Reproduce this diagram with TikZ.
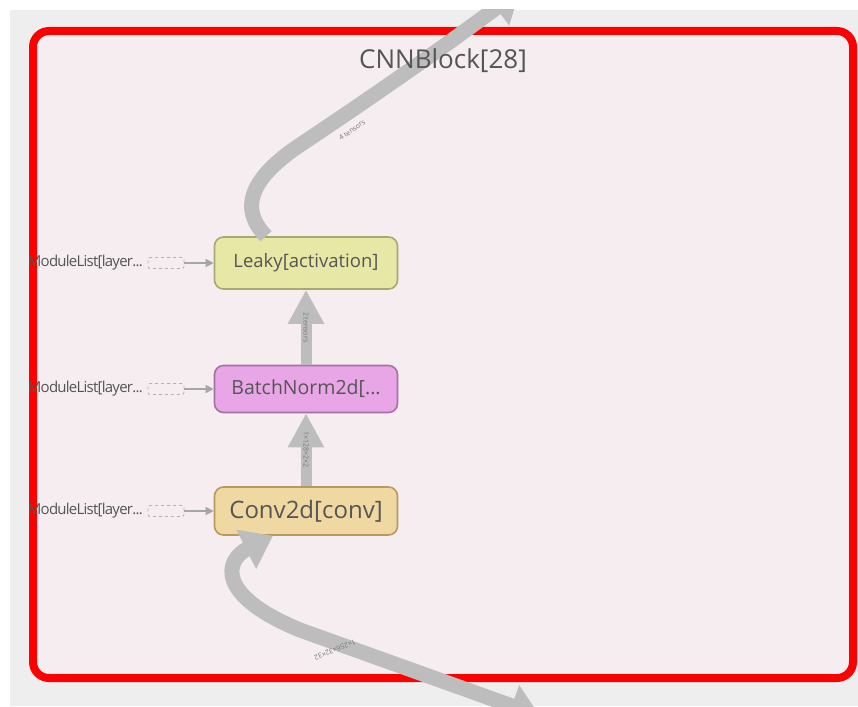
\documentclass[tikz,border=0pt]{standalone}
\usepackage{fontspec}
\setmainfont{Open Sans}
\usetikzlibrary{arrows.meta}
\definecolor{bggray}{HTML}{EEEEEE}
\definecolor{clusterfill}{HTML}{F5EDF0}
\definecolor{edgegray}{HTML}{BDBDBD}
\definecolor{txt}{HTML}{555555}
\definecolor{leakyfill}{HTML}{E8E8A6}
\definecolor{leakydraw}{HTML}{A8A870}
\definecolor{bnfill}{HTML}{E8A6E6}
\definecolor{bndraw}{HTML}{A870A8}
\definecolor{convfill}{HTML}{F0D8A2}
\definecolor{convdraw}{HTML}{B89A60}
\tikzset{
  opnode/.style={rounded corners=9pt, line width=1.6pt, minimum width=183pt, minimum height=52pt, text=txt, inner sep=0pt},
  extlabel/.style={text=txt, font=\fontsize{15}{15}\selectfont\addfontfeatures{LetterSpace=-5}, anchor=east, inner sep=0pt},
  dashbox/.style={draw=gray!60, dashed, line width=0.8pt, rounded corners=2pt, minimum width=36pt, minimum height=11pt, inner sep=0pt},
  smallarrow/.style={draw=gray!70, line width=1.3pt, -{Triangle[length=8pt,width=8pt]}},
  bigedge/.style={draw=edgegray, line width=11pt, -{Triangle[length=34pt,width=34pt]}},
  curveedge/.style={draw=edgegray, line width=15pt},
  elabel/.style={text=txt!80, font=\fontsize{7}{7}\selectfont, inner sep=0pt}
}
\begin{document}
\begin{tikzpicture}[x=1pt,y=-1pt]
\useasboundingbox (0,0) rectangle (858,706);
\fill[white] (0,0) rectangle (858,706);
\fill[bggray] (10,10) rectangle (858,706);
\begin{scope}
\clip (10,10) rectangle (858,706);
\filldraw[fill=clusterfill, draw=red, line width=8pt, rounded corners=16pt] (33,31) rectangle (853,678);
\node[opnode, fill=leakyfill, draw=leakydraw, font=\fontsize{18.5}{18.5}\selectfont] (leaky) at (306,263) {Leaky[activation]};
\node[opnode, fill=bnfill, draw=bndraw, font=\fontsize{19.5}{19.5}\selectfont, minimum height=47pt] (bn) at (306,389) {BatchNorm2d[...};
\node[opnode, fill=convfill, draw=convdraw, font=\fontsize{24}{24}\selectfont, minimum height=48pt] (conv) at (306,511) {Conv2d[conv]};
% top curve
\coordinate (topout) at (520,-10);
\draw[curveedge, -{Triangle[length=30pt,width=42pt]}] ([xshift=-40pt]leaky.north) .. controls (245,215) and (240,185) .. (300,145) .. controls (360,105) and (440,50) .. (topout);
\node[elabel, rotate=36] (l0) at (352,130) {4 tensors};
\node[text=txt, font=\fontsize{26}{26}\selectfont] (title) at (443,61) {CNNBlock[28]};
% inputs
\foreach \n/\y in {a/263,b/389,c/511}{
  \node[dashbox] (d\n) at (166,\y) {};
  \node[extlabel] (m\n) at (143,\y) {ModuleList[layer...};
}
\draw[smallarrow] (da) -- (leaky);
\draw[smallarrow] (db) -- (bn);
\draw[smallarrow] (dc) -- (conv);
% vertical edges
\draw[bigedge] (conv.north) -- node[elabel, rotate=-90] (l2) {1×128×2×2} (bn.south);
\draw[bigedge] (bn.north) -- node[elabel, rotate=-90] (l1) {2 tensors} (leaky.south);
% bottom curve
\coordinate (botout) at (540,716);
\draw[curveedge, {Triangle[length=30pt,width=42pt]}-{Triangle[length=30pt,width=42pt]}] ([xshift=-33pt]conv.south) .. controls (225,560) and (215,595) .. (300,630) -- (botout);
\node[elabel, rotate=202] (l3) at (335,650) {1×256×32×32};
\end{scope}
\end{tikzpicture}
\end{document}
